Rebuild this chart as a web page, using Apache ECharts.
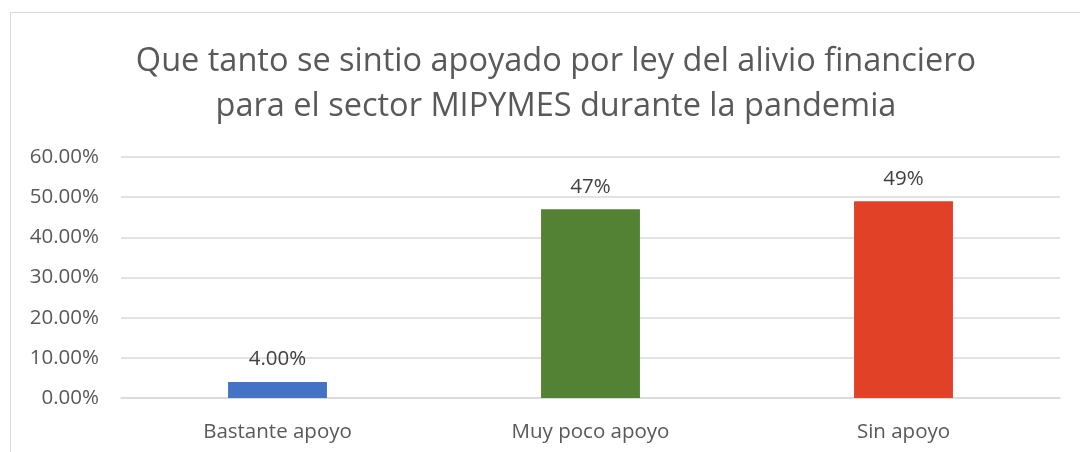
<!DOCTYPE html>
<html>
<head>
<meta charset="utf-8">
<script src="https://cdn.jsdelivr.net/npm/echarts@6/dist/echarts.min.js"></script>
<style>
  html, body { margin: 0; padding: 0; background: #fff; }
  #chart { width: 1080px; height: 452px; }
</style>
</head>
<body>
<div id="chart"></div>
<script>
// datos del grafico
const categories = ['Bastante apoyo', 'Muy poco apoyo', 'Sin apoyo']
const values = [0.04, 0.47, 0.49]
const valueLabels = ['4.00%', '47%', '49%']
const barColors = ['#4472c4', '#548235', '#e04127']
const titleLines = [
  'Que tanto se sintio apoyado por ley del alivio financiero',
  'para el sector MIPYMES durante la pandemia'
]

const chart = echarts.init(document.getElementById('chart'))
const fontFamily = '"Open Sans", Lato, sans-serif'

const option = {
  animation: false,
  textStyle: { fontFamily: fontFamily },
  graphic: [
    {
      type: 'rect',
      shape: { x: 10.5, y: 12.5, width: 1100, height: 460 },
      style: { fill: 'none', stroke: '#d9d9d9', lineWidth: 1 },
      silent: true
    }
  ],
  title: {
    text: titleLines.join('\n'),
    left: 551,
    textAlign: 'center',
    top: 34,
    textStyle: {
      fontFamily: fontFamily,
      fontSize: 32.5,
      fontWeight: 'normal',
      color: '#595959',
      lineHeight: 45
    }
  },
  grid: {
    left: 121,
    right: 20,
    top: 157,
    bottom: 54
  },
  xAxis: {
    type: 'category',
    data: categories,
    axisLine: { lineStyle: { color: '#d9d9d9', width: 1.5 } },
    axisTick: { show: false },
    axisLabel: {
      color: '#595959',
      fontSize: 20.5,
      margin: 24,
      fontFamily: fontFamily
    }
  },
  yAxis: {
    type: 'value',
    min: 0,
    max: 0.6,
    interval: 0.1,
    axisLine: { show: false },
    axisTick: { show: false },
    splitLine: { lineStyle: { color: '#d9d9d9', width: 1.5 } },
    axisLabel: {
      color: '#595959',
      fontSize: 20.5,
      margin: 22,
      fontFamily: fontFamily,
      formatter: v => (v * 100).toFixed(2) + '%'
    }
  },
  series: [
    {
      type: 'bar',
      barWidth: '31.6%',
      data: values.map((v, i) => ({
        value: v,
        itemStyle: { color: barColors[i] }
      })),
      label: {
        show: true,
        position: 'top',
        distance: 12,
        color: '#404040',
        fontSize: 20.5,
        fontFamily: fontFamily,
        formatter: p => valueLabels[p.dataIndex]
      }
    }
  ]
}

chart.setOption(option)
</script>
</body>
</html>
